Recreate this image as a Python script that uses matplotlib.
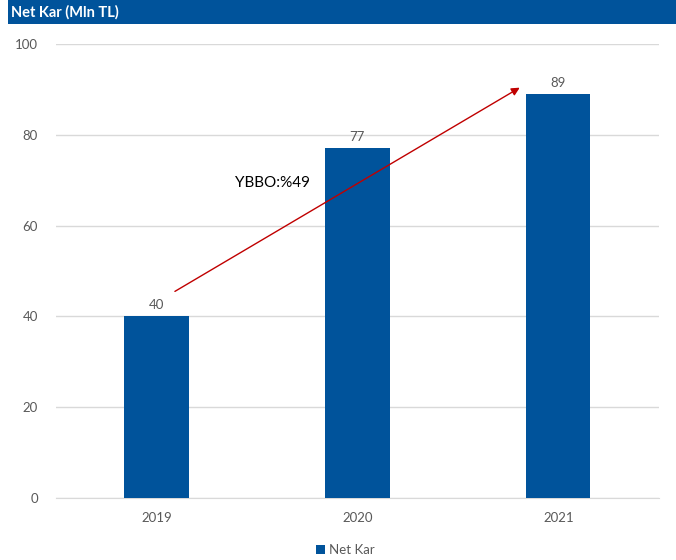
import matplotlib.pyplot as plt
from matplotlib.patches import Rectangle

# data
years = ["2019", "2020", "2021"]
net_kar = [40, 77, 89]
yticks = [0, 20, 40, 60, 80, 100]
growth_label = "YBBO:%49"

blue = "#00539B"
grey = "#595959"
plt.rcParams["font.family"] = ["Lato", "DejaVu Sans"]

fig = plt.figure(figsize=(6.76, 5.6), dpi=100)
ax = fig.add_axes([0.0828, 0.1107, 0.8917, 0.8107])

# title bar
fig.patches.append(Rectangle((0.012, 0.957), 0.988, 0.043, transform=fig.transFigure,
                             facecolor=blue, edgecolor="none", zorder=0))
fig.text(0.017, 0.978, "Net Kar (Mln TL)", color="white", fontsize=10.5, fontweight="bold",
         va="center", ha="left")

x = range(len(years))
bars = ax.bar(x, net_kar, width=0.32, color=blue, zorder=3, label="Net Kar")
for xi, v in zip(x, net_kar):
    ax.text(xi, v + 1.2, str(v), ha="center", va="bottom", fontsize=9.5, color=grey)

ax.set_xlim(-0.5, 2.5)
ax.set_ylim(0, 100)
ax.set_yticks(yticks)
ax.set_xticks(list(x))
ax.set_xticklabels(years)
ax.tick_params(length=0, labelsize=9.5, colors=grey)
ax.tick_params(axis="y", pad=13)
ax.tick_params(axis="x", pad=10)
ax.grid(axis="y", color="#D9D9D9", linewidth=1, zorder=0)
for s in ["top", "right", "left"]:
    ax.spines[s].set_visible(False)
ax.spines["bottom"].set_color("#D9D9D9")

# growth arrow
ax.annotate("", xy=(1.82, 90.7), xytext=(0.08, 45.2),
            arrowprops=dict(arrowstyle="-|>", color="#C00000", lw=1, mutation_scale=12),
            zorder=4)
ax.text(0.39, 69.4, growth_label, fontsize=11, color="black", ha="left", va="center", zorder=5)

ax.legend(loc="upper center", bbox_to_anchor=(0.48, -0.075), frameon=False, fontsize=9.5,
          handlelength=0.7, handleheight=0.7, handletextpad=0.3, labelcolor=grey)

fig.savefig("out.png", dpi=100, facecolor="white")
